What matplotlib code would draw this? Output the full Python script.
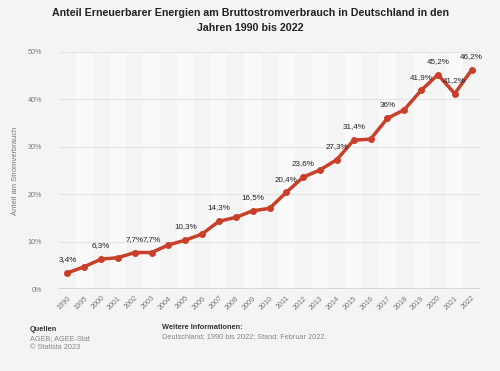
"""Anteil Erneuerbarer Energien am Bruttostromverbrauch in Deutschland, 1990-2022."""

import matplotlib.pyplot as plt

YEARS = ["1990", "1995"] + [str(y) for y in range(2000, 2023)]
SHARE = [3.4, 4.7, 6.3, 6.6, 7.7, 7.7, 9.3, 10.3, 11.6, 14.3, 15.1, 16.5, 17.0,
         20.4, 23.6, 25.1, 27.3, 31.4, 31.6, 36.0, 37.8, 41.9, 45.2, 41.2, 46.2]
LABELED = {"1990", "2000", "2002", "2003", "2005", "2007", "2009", "2011", "2012",
           "2014", "2015", "2017", "2019", "2020", "2021", "2022"}
Y_TICKS = [0, 10, 20, 30, 40, 50]

BG = "#f4f4f4"
RED = "#c8402a"

plt.rcParams["font.family"] = ["Liberation Sans", "DejaVu Sans"]

fig = plt.figure(figsize=(5.0, 3.71), dpi=100, facecolor=BG)
ax = fig.add_axes([0.118, 0.221, 0.842, 0.639])
ax.set_facecolor(BG)

x = list(range(len(YEARS)))
for i in x:
    if i % 2 == 1:
        ax.axvspan(i - 0.5, i + 0.5, color="#f9f9f9", zorder=0, lw=0)

for t in Y_TICKS[1:]:
    ax.axhline(t, color="#e4e4e4", lw=0.8, zorder=1)
ax.axhline(0, color="#555555", lw=1.0, zorder=2)

ax.plot(x, SHARE, color=RED, lw=2.5, marker="o", ms=4, zorder=3)

for i, (yr, v) in enumerate(zip(YEARS, SHARE)):
    if yr in LABELED:
        txt = f"{v:g}%".replace(".", ",")
        ax.annotate(txt, (i, v), xytext=(0, 7), textcoords="offset points",
                    ha="center", va="bottom", fontsize=5.8, color="#222222", zorder=4)

ax.set_xlim(-0.5, len(YEARS) - 0.5)
ax.set_ylim(0, 50)
ax.set_yticks(Y_TICKS, [f"{t}%" for t in Y_TICKS])
ax.set_xticks(x, YEARS, rotation=45, ha="right", rotation_mode="anchor")
ax.tick_params(axis="both", length=0, labelsize=5.2, colors="#777777")
ax.tick_params(axis="x", pad=4)
ax.tick_params(axis="y", pad=12)
for s in ax.spines.values():
    s.set_visible(False)
ax.set_ylabel("Anteil am Stromverbrauch", fontsize=5.5, color="#777777", labelpad=6)

fig.text(0.5, 0.945, "Anteil Erneuerbarer Energien am Bruttostromverbrauch in Deutschland in den\nJahren 1990 bis 2022",
         ha="center", va="center", fontsize=7.7, fontweight="bold", color="#222222", linespacing=1.7)

fig.text(0.06, 0.108, "Quellen", fontsize=5.3, fontweight="bold", color="#333333")
fig.text(0.06, 0.083, "AGEB; AGEE-Stat", fontsize=5.3, color="#888888")
fig.text(0.06, 0.058, "© Statista 2023", fontsize=5.3, color="#888888")
fig.text(0.325, 0.113, "Weitere Informationen:", fontsize=5.3, fontweight="bold", color="#333333")
fig.text(0.325, 0.088, "Deutschland; 1990 bis 2022; Stand: Februar 2022.", fontsize=5.3, color="#888888")

fig.savefig("out.png", dpi=100, facecolor=BG)
